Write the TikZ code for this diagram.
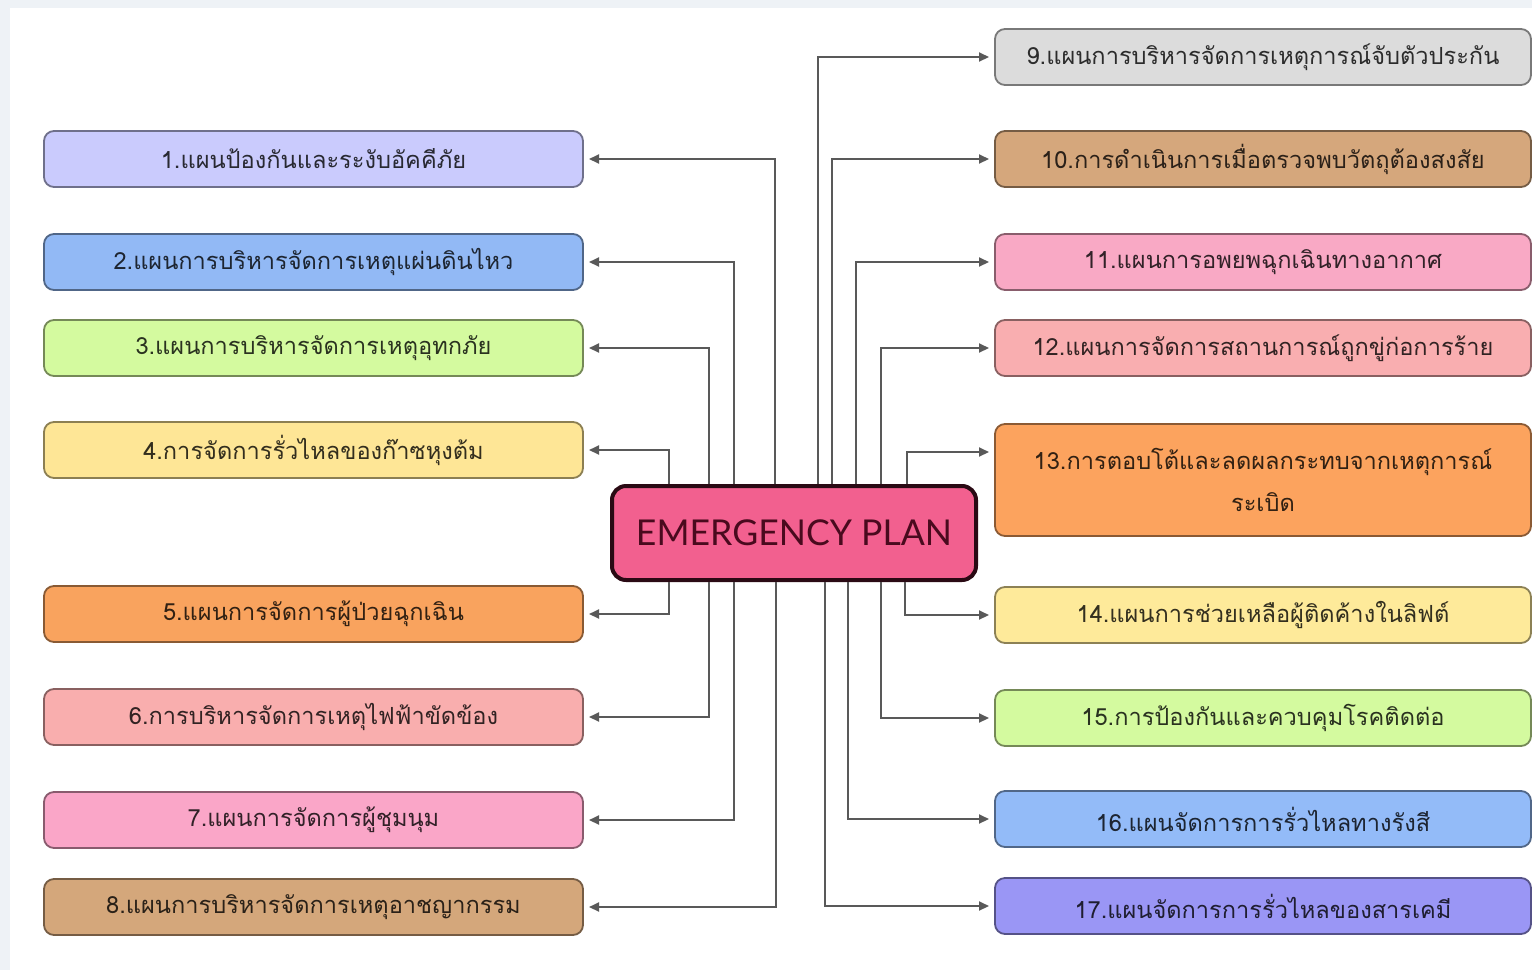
\documentclass[tikz,border=0pt]{standalone}
\usepackage{fontspec}
\setmainfont{Lato}
\newfontfamily\thaifont[Script=Thai]{Loma}
\usetikzlibrary{arrows.meta,positioning}
\definecolor{cframe}{HTML}{EEF2F6}
\definecolor{chubfill}{HTML}{F2608F}
\definecolor{chubborder}{HTML}{2A0A14}
\definecolor{chubtext}{HTML}{4A0A1E}
\definecolor{cfire}{HTML}{CACBFD}
\definecolor{cquake}{HTML}{92B9F5}
\definecolor{cflood}{HTML}{D4FA9F}
\definecolor{cgas}{HTML}{FEE696}
\definecolor{cpatient}{HTML}{F9A35E}
\definecolor{cpower}{HTML}{F9AEAE}
\definecolor{cmob}{HTML}{FAA6C8}
\definecolor{ccrime}{HTML}{D4A77B}
\definecolor{chostage}{HTML}{DCDCDC}
\definecolor{csuspect}{HTML}{D5A77C}
\definecolor{cair}{HTML}{F9A9C5}
\definecolor{cterror}{HTML}{F9AEB0}
\definecolor{cbomb}{HTML}{FCA35E}
\definecolor{clift}{HTML}{FEEA9A}
\definecolor{cdisease}{HTML}{D4FA9F}
\definecolor{cradiation}{HTML}{93BBF8}
\definecolor{cchemical}{HTML}{9A96F5}

\begin{document}
\begin{tikzpicture}[
    x=0.5pt, y=-0.5pt,
    plan/.style={draw=#1!55!black, fill=#1, text=#1!20!black, rounded corners=5pt,
                 line width=0.9pt, minimum height=28pt, inner sep=0pt, outer sep=0pt, align=center,
                 font=\thaifont\fontsize{11.8}{21}\selectfont},
    lplan/.style={plan=#1, minimum width=269.5pt},
    rplan/.style={plan=#1, minimum width=268pt},
    hub/.style={draw=chubborder, fill=chubfill, text=chubtext, line width=2pt, rounded corners=7pt,
                minimum width=182pt, minimum height=47pt, font=\fontsize{17.8}{20}\selectfont},
    arr/.style={-{Triangle[length=5pt,width=4.5pt]}, line width=1pt, draw=black!65, shorten >=3pt}
]
\useasboundingbox (0,0) rectangle (1532,970);
\fill[cframe] (0,0) rectangle (1532,970);
\fill[white] (10,8) rectangle (1532,970);

\node[hub] (ctr) at (794,533) {EMERGENCY PLAN};

% left column
\node[lplan=cfire] (b1) at (313.5,159) {1.แผนป้องกันและระงับอัคคีภัย};
\node[lplan=cquake, below=23.5pt of b1] (b2) {2.แผนการบริหารจัดการเหตุแผ่นดินไหว};
\node[lplan=cflood, below=15pt of b2] (b3) {3.แผนการบริหารจัดการเหตุอุทกภัย};
\node[lplan=cgas, below=23pt of b3] (b4) {4.การจัดการรั่วไหลของก๊าซหุงต้ม};
\node[lplan=cpatient, below=54pt of b4] (b5) {5.แผนการจัดการผู้ป่วยฉุกเฉิน};
\node[lplan=cpower, below=23.5pt of b5] (b6) {6.การบริหารจัดการเหตุไฟฟ้าขัดข้อง};
\node[lplan=cmob, below=23.5pt of b6] (b7) {7.แผนการจัดการผู้ชุมนุม};
\node[lplan=ccrime, below=15.5pt of b7] (b8) {8.แผนการบริหารจัดการเหตุอาชญากรรม};

% right column
\node[rplan=chostage] (b9) at (1263,57) {9.แผนการบริหารจัดการเหตุการณ์จับตัวประกัน};
\node[rplan=csuspect, below=23pt of b9] (b10) {10.การดำเนินการเมื่อตรวจพบวัตถุต้องสงสัย};
\node[rplan=cair, below=23.5pt of b10] (b11) {11.แผนการอพยพฉุกเฉินทางอากาศ};
\node[rplan=cterror, below=15pt of b11] (b12) {12.แผนการจัดการสถานการณ์ถูกขู่ก่อการร้าย};
\node[rplan=cbomb, below=24pt of b12, minimum height=56pt] (b13) {13.การตอบโต้และลดผลกระทบจากเหตุการณ์\\ระเบิด};
\node[rplan=clift, below=25.5pt of b13] (b14) {14.แผนการช่วยเหลือผู้ติดค้างในลิฟต์};
\node[rplan=cdisease, below=23.5pt of b14] (b15) {15.การป้องกันและควบคุมโรคติดต่อ};
\node[rplan=cradiation, below=22.5pt of b15] (b16) {16.แผนจัดการการรั่วไหลทางรังสี};
\node[rplan=cchemical, below=15.5pt of b16] (b17) {17.แผนจัดการการรั่วไหลของสารเคมี};

% connectors
\draw[arr] ([xshift=-9.5pt]ctr.north) |- (b1);
\draw[arr] ([xshift=-30pt]ctr.north) |- (b2);
\draw[arr] ([xshift=-42.5pt]ctr.north) |- (b3);
\draw[arr] ([xshift=-62.5pt]ctr.north) |- (b4);
\draw[arr] ([xshift=-62.5pt]ctr.south) |- (b5);
\draw[arr] ([xshift=-42.5pt]ctr.south) |- (b6);
\draw[arr] ([xshift=-30pt]ctr.south) |- (b7);
\draw[arr] ([xshift=-9pt]ctr.south) |- (b8);
\draw[arr] ([xshift=12pt]ctr.north) |- (b9);
\draw[arr] ([xshift=19pt]ctr.north) |- (b10);
\draw[arr] ([xshift=31pt]ctr.north) |- (b11);
\draw[arr] ([xshift=43.5pt]ctr.north) |- (b12);
\draw[arr] ([xshift=56.5pt]ctr.north) |- ([yshift=-14pt]b13.north west);
\draw[arr] ([xshift=55.5pt]ctr.south) |- (b14);
\draw[arr] ([xshift=43.5pt]ctr.south) |- (b15);
\draw[arr] ([xshift=27pt]ctr.south) |- (b16);
\draw[arr] ([xshift=15.5pt]ctr.south) |- (b17);
\end{tikzpicture}
\end{document}
